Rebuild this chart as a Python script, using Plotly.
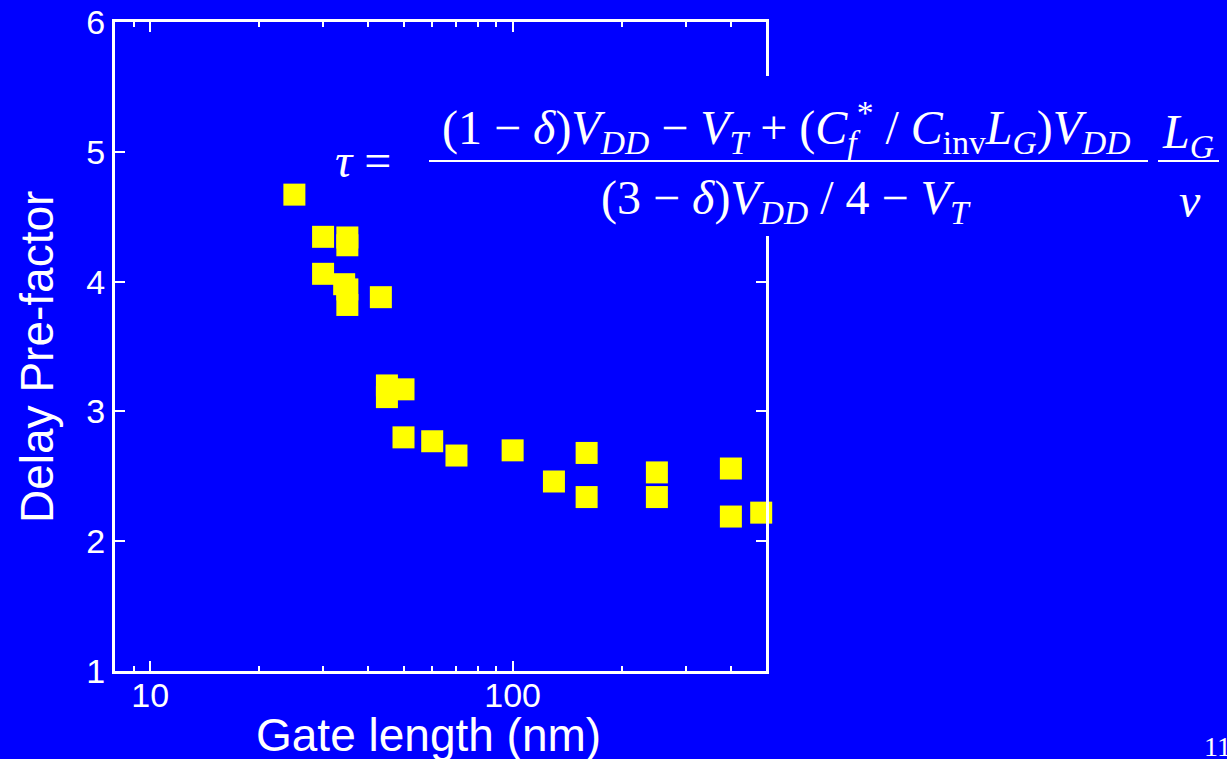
import plotly.graph_objects as go
import math

# ---- data ----
gate_length_nm = [25, 30, 35, 35, 30, 34.3, 35, 35, 43.3, 45, 45, 50, 50, 60, 70,
                  100, 130, 160, 160, 250, 250, 400, 400, 485]
delay_prefactor = [4.67, 4.345, 4.34, 4.28, 4.06, 3.98, 3.94, 3.82, 3.88, 3.20, 3.11, 3.17, 2.80, 2.77, 2.66,
                   2.70, 2.46, 2.68, 2.34, 2.53, 2.34, 2.56, 2.19, 2.22]

x_major_ticks = [10, 100]
x_minor_ticks = [9, 20, 30, 40, 50, 60, 70, 80, 90, 200, 300, 400]
y_ticks = [1, 2, 3, 4, 5, 6]

W, H = 1227, 759
L, R, T, B = 115, 766, 22, 671
BLUE = "#0000FF"

def px(x):
    return (x - L) / (R - L)

def py(y):
    return (B - y) / (B - T)

fig = go.Figure()
fig.add_trace(go.Scatter(
    x=gate_length_nm, y=delay_prefactor, mode="markers",
    marker=dict(symbol="square", size=22, color="#FFFF00", line=dict(width=0)),
    cliponaxis=False, showlegend=False,
))

tickfont = dict(family="Liberation Sans, Arial, sans-serif", size=34, color="white")

fig.update_xaxes(
    type="log", range=[math.log10(8), math.log10(500)],
    tickvals=x_major_ticks, ticktext=[str(v) for v in x_major_ticks],
    ticks="inside", ticklen=10, tickwidth=2, tickcolor="white",
    minor=dict(tickvals=x_minor_ticks, ticks="inside", ticklen=5, tickwidth=2, tickcolor="white"),
    showline=True, linewidth=3, linecolor="white", mirror="ticks",
    showgrid=False, zeroline=False, tickfont=tickfont, automargin=False,
    ticklabelstandoff=-8,
)
fig.update_yaxes(
    range=[1, 6], tickvals=y_ticks,
    ticks="inside", ticklen=10, tickwidth=2, tickcolor="white",
    showline=True, linewidth=3, linecolor="white", mirror="ticks",
    showgrid=False, zeroline=False, tickfont=tickfont, automargin=False,
)

titlefont = dict(family="Liberation Sans, Arial, sans-serif", size=46, color="white")
serif = "Liberation Serif, Times New Roman, serif"

annotations = [
    dict(text="Gate length (nm)", x=px(428), y=py(735), xref="paper", yref="paper",
         showarrow=False, font=titlefont, xanchor="center", yanchor="middle"),
    dict(text="Delay Pre-factor", x=px(37), y=py(357), xref="paper", yref="paper",
         showarrow=False, font=titlefont, textangle=-90, xanchor="center", yanchor="middle"),
    dict(text="<i>τ</i> =", x=px(333), y=py(160), xref="paper", yref="paper",
         showarrow=False, font=dict(family=serif, size=48, color="white"),
         xanchor="left", yanchor="middle"),
    dict(text="(1 − <i>δ</i>)<i>V</i><sub><i>DD</i></sub> − <i>V</i><sub><i>T</i></sub> + "
              "(<i>C</i><sub><i>f</i></sub><sup>*</sup> / <i>C</i><sub>inv</sub><i>L</i><sub><i>G</i></sub>)"
              "<i>V</i><sub><i>DD</i></sub>",
         x=px(786), y=py(128), xref="paper", yref="paper",
         showarrow=False, font=dict(family=serif, size=48, color="white"),
         xanchor="center", yanchor="middle"),
    dict(text="(3 − <i>δ</i>)<i>V</i><sub><i>DD</i></sub> / 4 − <i>V</i><sub><i>T</i></sub>",
         x=px(786), y=py(201), xref="paper", yref="paper",
         showarrow=False, font=dict(family=serif, size=48, color="white"),
         xanchor="center", yanchor="middle"),
    dict(text="<i>L</i><sub><i>G</i></sub>", x=px(1188), y=py(135), xref="paper", yref="paper",
         showarrow=False, font=dict(family=serif, size=48, color="white"),
         xanchor="center", yanchor="middle"),
    dict(text="<i>v</i>", x=px(1190), y=py(200), xref="paper", yref="paper",
         showarrow=False, font=dict(family=serif, size=48, color="white"),
         xanchor="center", yanchor="middle"),
    dict(text="11", x=px(1202), y=py(746), xref="paper", yref="paper",
         showarrow=False, font=dict(family=serif, size=28, color="white"),
         xanchor="left", yanchor="middle"),
]

shapes = [
    dict(type="rect", xref="paper", yref="paper", x0=px(420), x1=px(1227), y0=py(236), y1=py(76),
         fillcolor=BLUE, line=dict(width=0), layer="above"),
    dict(type="line", xref="paper", yref="paper", x0=px(429), x1=px(1148), y0=py(161), y1=py(161),
         line=dict(color="white", width=2), layer="above"),
    dict(type="line", xref="paper", yref="paper", x0=px(1158), x1=px(1219), y0=py(161), y1=py(161),
         line=dict(color="white", width=2), layer="above"),
]

fig.update_layout(
    width=W, height=H,
    margin=dict(l=L, r=W - R, t=T, b=H - B, pad=0),
    paper_bgcolor=BLUE, plot_bgcolor=BLUE,
    annotations=annotations, shapes=shapes,
    showlegend=False,
)

fig.write_html("out.html")
